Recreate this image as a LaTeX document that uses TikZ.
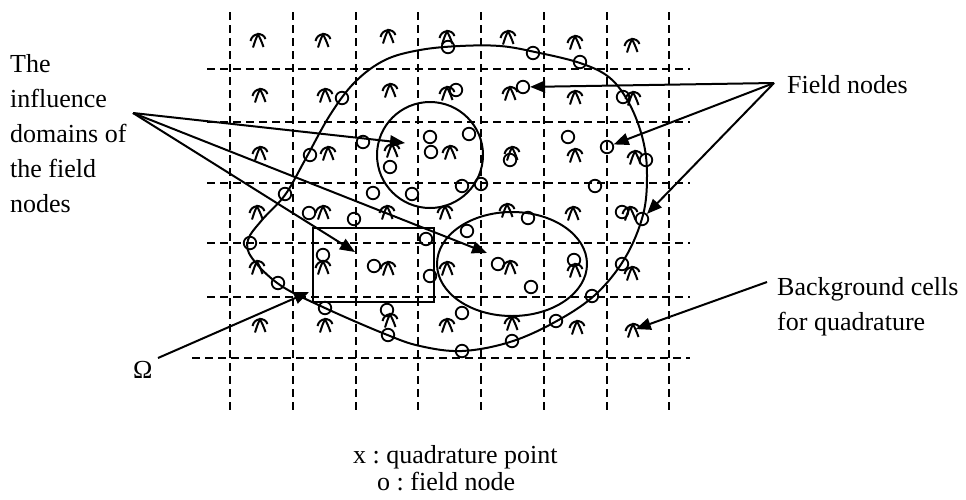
\documentclass[tikz,border=0pt]{standalone}
\usepackage{fontspec}
\setmainfont{Liberation Serif}
\usetikzlibrary{arrows.meta,shapes.geometric}
\frenchspacing
\begin{document}
\begin{tikzpicture}[x=1pt,y=-1pt,
  gridline/.style={dash pattern=on 8pt off 5pt, line width=2pt},
  fn/.style={circle,draw,line width=1.8pt,minimum size=12.5pt,inner sep=0pt},
  bound/.style={line width=2pt},
  dom/.style={draw,line width=2pt,inner sep=0pt},
  arr/.style={line width=2pt,-{Triangle[length=15pt,width=12pt]}},
  lbl/.style={font=\fontsize{26}{35}\selectfont,inner sep=0pt},
  qp/.pic={\draw[line width=2pt] (-7.5,1) .. controls (-6,-7) and (5,-8.5) .. (7.5,-1);
           \draw[line width=2pt] (-5,7.5) .. controls (-3,1) and (-1.5,-3) .. (0,-5.5)
                                   .. controls (1.5,-3) and (3.5,1) .. (5.5,7);}
]
\useasboundingbox (0,0) rectangle (966,499);
% background grid
\foreach \x in {230,293,356,418,481,544,607,669}
  \draw[gridline] (\x,12) -- (\x,410);
\foreach \y in {69,122,183,243,297}
  \draw[gridline] (207,\y) -- (690,\y);
\draw[gridline] (192,358) -- (690,358);
% boundary Omega
\draw[bound] plot[smooth cycle, tension=0.6] coordinates {
  (248,240) (262,220) (285,195) (305,160) (330,115) (355,82) (385,60) (420,50)
  (460,46) (500,46) (535,52) (580,63) (610,78) (630,105) (643,140) (647,175)
  (643,215) (625,258) (595,295) (555,322) (510,342) (462,351) (420,346)
  (385,334) (325,308) (280,285) (252,258)};
% influence domains
\node[dom,circle,minimum size=106pt] (circdom) at (430,155) {};
\node[dom,ellipse,minimum width=150pt,minimum height=104pt] (elldom) at (512,264) {};
\node[dom,rectangle,minimum width=121pt,minimum height=74pt] (rectdom) at (373.5,265) {};
% quadrature points
\foreach \qx/\qy in {258/40,323/40,388/36,447/37,508/37,575/42,632/45,
  260/95,325/95,390/90,447/93,510/93,575/97,633/98,
  260/153,328/153,392/150,450/152,512/153,575/155,635/157,
  257/212,323/212,387/212,445/212,507/210,573/213,630/213,
  257/267,323/267,388/268,447/268,510/267,575/270,632/273,
  260/325,325/325,390/320,447/325,512/323,577/327}
  \pic at (\qx,\qy) {qp};
\pic at (633,330) {qp};
\coordinate (qtarget) at (633,330);
% field nodes
\foreach \i/\nx/\ny in {1/448/47,2/533/53,3/580/62,4/342/98,5/456/90,
  7/623/97,8/310/155,9/363/142,10/430/137,11/431/152,12/469/134,
  13/390/167,14/568/137,16/510/160,17/646/160,18/373/193,19/412/194,
  20/462/186,21/481/184,22/285/194,23/309/213,24/354/219,25/595/186,
  26/250/243,27/426/239,28/467/231,29/528/218,30/622/212,
  32/323/255,33/374/266,34/430/276,35/498/264,36/574/260,37/622/264,
  38/278/283,39/531/287,40/592/296,41/325/308,42/387/310,43/462/313,
  44/556/321,45/388/335,46/512/341,47/462/351}
  \node[fn] (n\i) at (\nx,\ny) {};
\node[fn] (n6) at (523,87) {};
\node[fn] (n15) at (607,147) {};
\node[fn] (n31) at (642,219) {};
% labels
\node[lbl,anchor=base west] (fieldlbl) at (787,93) {Field nodes};
\node[lbl,anchor=north west,align=left] (infllbl) at (10,54) {The\\influence\\domains of\\the field\\nodes};
\node[lbl,anchor=north west,align=left] (bglbl) at (777,277) {Background cells\\for quadrature};
\node[lbl,anchor=base west] (omega) at (133,378) {Ω};
\node[lbl,anchor=base west] (legx) at (353,463) {x : quadrature point};
\node[lbl,anchor=base west] (lego) at (377,490) {o : field node};
% arrows
\coordinate (fapex) at (774,83);
\draw[arr] (fapex) -- (n6);
\draw[arr] (fapex) -- (n15);
\draw[arr] (fapex) -- (n31);
\coordinate (iapex) at (133,113);
\coordinate (t1) at (405,143);
\coordinate (t2) at (487,253);
\coordinate (t3) at (355,252);
\draw[arr] (iapex) -- (t1);
\draw[arr] (iapex) -- (t2);
\draw[arr] (iapex) -- (t3);
\coordinate (bgstart) at (767,282);
\draw[arr,shorten >=3pt] (bgstart) -- (qtarget);
\coordinate (omstart) at (158,358);
\coordinate (omtip) at (309,292);
\draw[arr] (omstart) -- (omtip);
\end{tikzpicture}
\end{document}
